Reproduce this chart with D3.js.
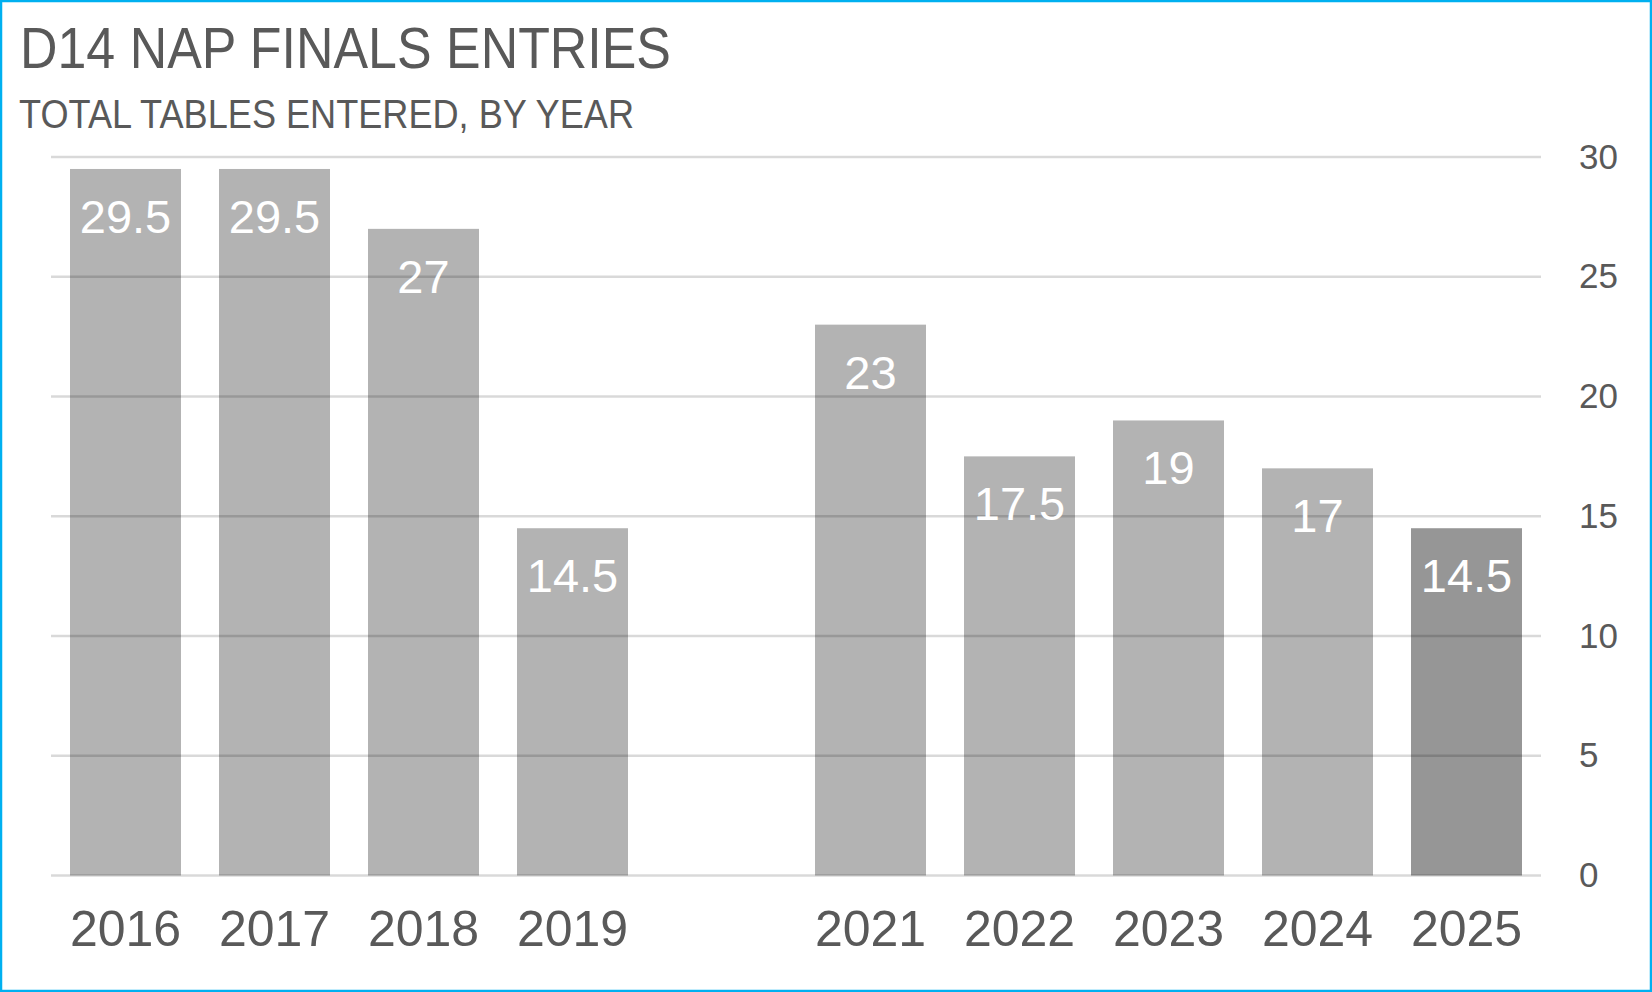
<!DOCTYPE html>
<html>
<head>
<meta charset="utf-8">
<script src="https://cdn.jsdelivr.net/npm/d3@7"></script>
<style>
  html, body { margin: 0; padding: 0; background: #fff; }
  svg { display: block; }
</style>
</head>
<body>
<div id="chart"></div>
<script>
// data, 2020 has no entry (blank slot)
const years = ["2016", "2017", "2018", "2019", "2020", "2021", "2022", "2023", "2024", "2025"]
const tables = [29.5, 29.5, 27, 14.5, null, 23, 17.5, 19, 17, 14.5]
const yTicks = [0, 5, 10, 15, 20, 25, 30]
const highlightYear = "2025"

const W = 1652, H = 992
const margin = {top: 157, right: 111, bottom: 116.5, left: 51}

const svg = d3.select("#chart").append("svg")
  .attr("width", W)
  .attr("height", H)

// outer blue frame
svg.append("rect")
  .attr("x", 1).attr("y", 1)
  .attr("width", W - 2).attr("height", H - 2)
  .attr("fill", "#fff")
  .attr("stroke", "#00b0f0")
  .attr("stroke-width", 2.5)

// titles -- no narrow font installed, so squeeze a normal sans to the original width
svg.append("text")
  .attr("x", 20).attr("y", 68)
  .attr("fill", "#595959")
  .attr("textLength", 651)
  .attr("lengthAdjust", "spacingAndGlyphs")
  .style("font-family", "'Liberation Sans', Arial, sans-serif")
  .style("font-size", "58px")
  .text("D14 NAP FINALS ENTRIES")

svg.append("text")
  .attr("x", 19).attr("y", 128)
  .attr("fill", "#595959")
  .attr("textLength", 615)
  .attr("lengthAdjust", "spacingAndGlyphs")
  .style("font-family", "'Liberation Sans', Arial, sans-serif")
  .style("font-size", "41px")
  .text("TOTAL TABLES ENTERED, BY YEAR")

const x = d3.scaleBand()
  .domain(years)
  .range([margin.left, W - margin.right])
  .paddingInner(0.255)
  .paddingOuter(0.1275)

const y = d3.scaleLinear()
  .domain([0, 30])
  .range([H - margin.bottom, margin.top])

const data = years.map((yr, i) => ({year: yr, value: tables[i]}))
  .filter(d => d.value != null)

// bars
svg.append("g")
  .selectAll("rect")
  .data(data)
  .join("rect")
    .attr("x", d => x(d.year))
    .attr("y", d => y(d.value))
    .attr("width", x.bandwidth())
    .attr("height", d => y(0) - y(d.value))
    .attr("fill", d => d.year == highlightYear ? "#969696" : "#b3b3b3")

// gridlines, drawn over the bars (they show through darker on the bars)
svg.append("g")
  .selectAll("line")
  .data(yTicks)
  .join("line")
    .attr("x1", margin.left)
    .attr("x2", W - margin.right)
    .attr("y1", d => y(d))
    .attr("y2", d => y(d))
    .attr("stroke", "#000")
    .attr("stroke-opacity", 0.15)
    .attr("stroke-width", 2.5)

// right axis labels
const yAxis = svg.append("g")
  .attr("transform", `translate(${W - margin.right + 38},0)`)
  .call(d3.axisRight(y).tickValues(yTicks).tickSize(0).tickPadding(0))
yAxis.select(".domain").remove()
yAxis.selectAll("text")
  .attr("fill", "#595959")
  .style("font-family", "'Liberation Sans', Arial, sans-serif")
  .style("font-size", "35px")

// bottom axis labels
const xAxis = svg.append("g")
  .attr("transform", `translate(0,${y(0)})`)
  .call(d3.axisBottom(x).tickSize(0).tickPadding(0)
    .tickFormat(d => tables[years.indexOf(d)] == null ? "" : d))
xAxis.select(".domain").remove()
xAxis.selectAll("text")
  .attr("dy", null)
  .attr("y", 70)
  .attr("fill", "#595959")
  .style("font-family", "'Liberation Sans', Arial, sans-serif")
  .style("font-size", "50px")

// value labels inside the top of each bar
svg.append("g")
  .selectAll("text")
  .data(data)
  .join("text")
    .attr("x", d => x(d.year) + x.bandwidth() / 2)
    .attr("y", d => y(d.value) + 64)
    .attr("text-anchor", "middle")
    .attr("fill", "#fff")
    .style("font-family", "'Liberation Sans', Arial, sans-serif")
    .style("font-size", "47px")
    .text(d => d.value)
</script>
</body>
</html>
